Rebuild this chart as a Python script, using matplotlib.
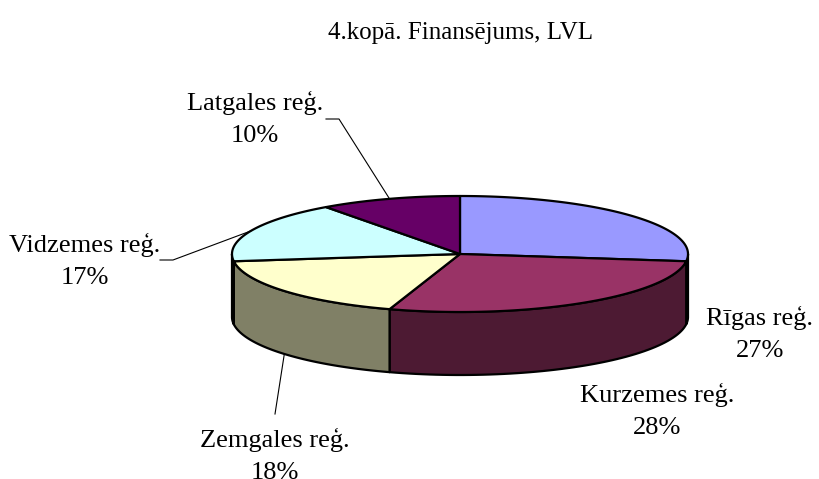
import matplotlib
matplotlib.use('Agg')
import matplotlib.pyplot as plt
import numpy as np
from matplotlib.patches import Polygon
from matplotlib.colors import to_rgb

plt.rcParams['font.family'] = ['Liberation Serif', 'DejaVu Serif']

# data
regions = ['Rīgas reģ.', 'Kurzemes reģ.', 'Zemgales reģ.', 'Vidzemes reģ.', 'Latgales reģ.']
shares = [27, 28, 18, 17, 10]
colors = ['#9999FF', '#993366', '#FFFFCC', '#CCFFFF', '#660066']
title = '4.kopā. Finansējums, LVL'

# pie layout (pixel space)
cx, cy = 460, 254
a, b = 228, 58
depth = 63

fig = plt.figure(figsize=(8.19, 4.79), dpi=100)
ax = fig.add_axes([0, 0, 1, 1])
ax.set_xlim(0, 819)
ax.set_ylim(479, 0)
ax.axis('off')


def pt(t, dz=0):
    t = np.radians(t)
    return cx + a * np.cos(t), cy - b * np.sin(t) + dz


fracs = np.array(shares) / sum(shares)
cum = np.concatenate([[0], np.cumsum(fracs)])
starts = 90 - 360 * cum[:-1]
ends = 90 - 360 * cum[1:]

# side walls (front half only)
for t0, t1, c in zip(starts, ends, colors):
    hi = min(t0, 0)
    lo = max(t1, -180)
    if lo >= hi:
        continue
    ts = np.linspace(hi, lo, 60)
    top = [pt(t) for t in ts]
    bot = [pt(t, depth) for t in ts[::-1]]
    side = tuple(v * 0.5 for v in to_rgb(c))
    ax.add_patch(Polygon(top + bot, closed=True, facecolor=side,
                         edgecolor='black', lw=1.6, joinstyle='round'))

# top faces
for t0, t1, c in zip(starts, ends, colors):
    ts = np.linspace(t0, t1, 120)
    verts = [(cx, cy)] + [pt(t) for t in ts]
    ax.add_patch(Polygon(verts, closed=True, facecolor=c,
                         edgecolor='black', lw=1.6, joinstyle='round'))

# labels
label_pos = [(760, 318), (657, 395), (275, 440), (85, 245), (255, 103)]
fs = 19
for name, s, (x, y) in zip(regions, shares, label_pos):
    ax.text(x, y, name, ha='center', va='center', fontsize=fs)
    ax.text(x, y + 33, f'{s}%', ha='center', va='center', fontsize=fs)

# leader lines
mids = (starts + ends) / 2
lx, ly = pt(mids[4])
ax.plot([lx, 339, 326], [ly, 119, 119], color='black', lw=0.8)
vx, vy = pt(mids[3])
ax.plot([vx, 173, 160], [vy, 260, 260], color='black', lw=0.8)
zx, zy = pt(mids[2], depth)
ax.plot([zx, 275], [zy, 414], color='black', lw=0.8)

ax.text(460, 33, title, ha='center', va='center', fontsize=18)

fig.savefig('out.png', dpi=100)
